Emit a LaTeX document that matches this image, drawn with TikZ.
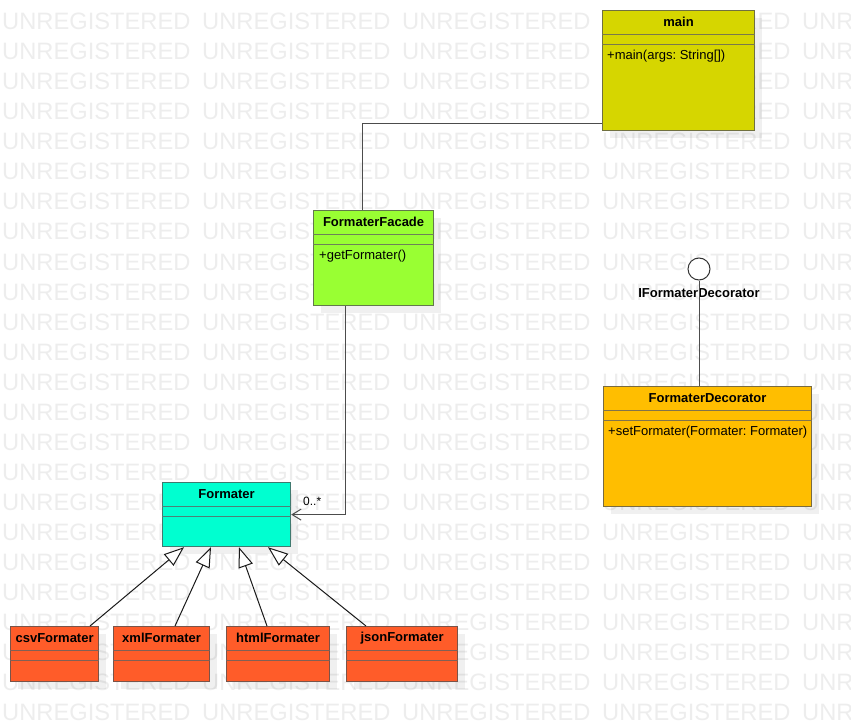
\documentclass[tikz,border=0pt]{standalone}
\usepackage{fontspec}
\setmainfont{Liberation Sans}
\frenchspacing
\usetikzlibrary{calc, arrows.meta, shadows}

\definecolor{watermark}{RGB}{237,237,237}
\definecolor{mainyellow}{RGB}{214,214,0}
\definecolor{facadegreen}{RGB}{153,255,51}
\definecolor{formateraqua}{RGB}{0,255,208}
\definecolor{decoorange}{RGB}{255,190,0}
\definecolor{subred}{RGB}{255,92,41}

\begin{document}
\begin{tikzpicture}[
		x=1pt, y=-1pt,
		every node/.style={inner sep=0pt},
		wmark/.style={anchor=base west, font=\fontsize{23.7}{24}\selectfont, text=watermark},
		cls/.style={draw=#1!30!black!75!white, fill=#1, line width=1.2pt, anchor=north west,
			drop shadow={shadow xshift=7pt, shadow yshift=-7pt, fill=black, opacity=0.06}},
		sep/.style={draw=#1!30!black!70!white, line width=1.2pt},
		ttl/.style={font=\fontsize{13}{15}\selectfont\bfseries},
		op/.style={anchor=west, font=\fontsize{13}{15}\selectfont},
		assoc/.style={draw=black!70, line width=1pt},
		dep/.style={assoc, -{Straight Barb[length=9pt, width=11pt]}},
		gen/.style={draw=black!90, line width=1pt, -{Triangle[open, length=20pt, width=15pt, fill=white]}}]
		\useasboundingbox (0,0) rectangle (851,722);
		% watermark
		\begin{scope}
			\clip (0,0) rectangle (851,722);
			\foreach \r in {1,...,24}
				\foreach \c in {0,...,4}
					\node[wmark] (w\r-\c) at (\c*200+2, \r*30) {UNREGISTERED};
		\end{scope}
		% classes
		\node[cls=mainyellow,   minimum width=152, minimum height=120] (main)      at (602,10)  {};
		\node[cls=facadegreen,  minimum width=120, minimum height=95]  (facade)    at (313,210) {};
		\node[cls=formateraqua, minimum width=128, minimum height=64]  (formater)  at (162,482) {};
		\node[cls=decoorange,   minimum width=208, minimum height=120] (decorator) at (603,386) {};
		\foreach \cname/\x/\w in {csv/10/88, xml/113/96, html/226/103, json/346/111}
			\node[cls=subred, minimum width=\w, minimum height=55] (\cname) at (\x,626) {};
		\foreach \cname/\clr in {main/mainyellow, facade/facadegreen, formater/formateraqua,
				decorator/decoorange, csv/subred, xml/subred, html/subred, json/subred}
			\foreach \d in {24.5,34.5}
				\draw[sep=\clr] ($(\cname.north west)+(0,\d)$) -- ($(\cname.north east)+(0,\d)$);
		\node[ttl] (mainT)      at ($(main.north)+(0,12)$)      {main};
		\node[ttl] (facadeT)    at ($(facade.north)+(0,12)$)    {FormaterFacade};
		\node[ttl] (formaterT)  at ($(formater.north)+(0,12)$)  {Formater};
		\node[ttl] (decoratorT) at ($(decorator.north)+(0,12)$) {FormaterDecorator};
		\foreach \cname in {csv, xml, html, json}
			\node[ttl] (\cname T) at ($(\cname.north)+(0,12)$) {\cname Formater};
		\node[op] (mainM)      at ($(main.north west)+(5,46)$)      {+main(args: String[])};
		\node[op] (facadeM)    at ($(facade.north west)+(6,46)$)    {+getFormater()};
		\node[op] (decoratorM) at ($(decorator.north west)+(5,46)$) {+setFormater(Formater: Formater)};
		% interface
		\node[circle, draw=black!80, fill=white, line width=1pt, minimum size=22] (ifd) at (699,269) {};
		\node[ttl] (ifdL) at (699,293) {IFormaterDecorator};
		\draw[assoc] (ifd.south) -- (ifd.south |- decorator.north);
		% relations
		\draw[assoc] ($(main.south west)+(0,-8)$) -| ($(facade.north west)+(49,0)$);
		\draw[dep] ($(facade.south west)+(32,0)$) |- (formater.east);
		\node[font=\fontsize{12}{14}\selectfont] (mult) at ($(formater.east)+(21,-13)$) {0..*};
		\foreach \cname/\s/\t in {csv/80/22, xml/62/49, html/41/77, json/20/106}
			\draw[gen] ($(\cname.north west)+(\s,0)$) -- ($(formater.south west)+(\t,0)$);
\end{tikzpicture}
\end{document}
